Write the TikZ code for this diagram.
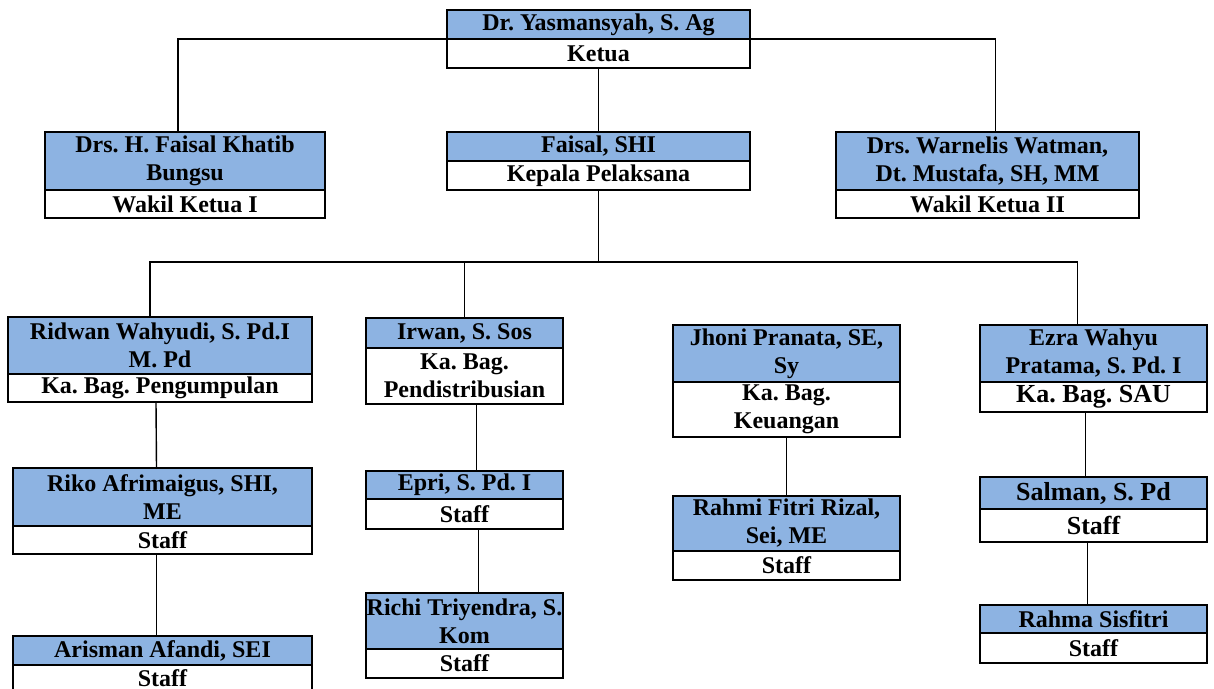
\documentclass[tikz,border=0pt]{standalone}
\usepackage{fontspec}
\setmainfont{Liberation Serif}
\frenchspacing
\usetikzlibrary{positioning,calc}
\definecolor{namefill}{HTML}{8DB3E2}

\begin{document}
\begin{tikzpicture}[x=0.5pt,y=-0.5pt,
	every node/.style={font=\bfseries\fontsize{12}{14}\selectfont,align=center,inner sep=0pt,outer sep=0pt,line width=1pt},
	namebox/.style={draw,fill=namefill,anchor=north west},
	rolebox/.style={draw,fill=white,below=0pt of #1},
	bigtext/.style={font=\bfseries\fontsize{13}{15}\selectfont},
	link/.style={line width=0.7pt}]
	\useasboundingbox (0,0) rectangle (1214,689);
	\clip (0,0) rectangle (1214,689);

	%top row
	\node[namebox,minimum width=151.5pt,minimum height=14.5pt] (ketua) at (447,10) {Dr. Yasmansyah, S. Ag};
	\node[rolebox=ketua,minimum width=151.5pt,minimum height=14.5pt] (ketuaR) {Ketua};
	%
	\node[namebox,minimum width=140pt,minimum height=29pt] (wakilsatu) at (45,132) {Drs. H. Faisal Khatib\\Bungsu};
	\node[rolebox=wakilsatu,minimum width=140pt,minimum height=14pt] (wakilsatuR) {Wakil Ketua I};
	\node[namebox,minimum width=151.5pt,minimum height=14.5pt] (faisal) at (447,132) {Faisal, SHI};
	\node[rolebox=faisal,minimum width=151.5pt,minimum height=14.5pt] (faisalR) {Kepala Pelaksana};
	\node[namebox,minimum width=151.5pt,minimum height=29pt] (wakildua) at (836,132) {Drs. Warnelis Watman,\\Dt. Mustafa, SH, MM};
	\node[rolebox=wakildua,minimum width=151.5pt,minimum height=14pt] (wakilduaR) {Wakil Ketua II};

	%bagian
	\node[namebox,minimum width=152pt,minimum height=28.5pt] (ridwan) at (8,317) {Ridwan Wahyudi, S. Pd.I\\M. Pd};
	\node[rolebox=ridwan,minimum width=152pt,minimum height=14pt] (ridwanR) {Ka. Bag. Pengumpulan};
	\node[namebox,minimum width=98.5pt,minimum height=15pt] (irwan) at (366,318) {Irwan, S. Sos};
	\node[rolebox=irwan,minimum width=98.5pt,minimum height=28pt] (irwanR) {Ka. Bag.\\Pendistribusian};
	\node[namebox,minimum width=113.5pt,minimum height=28.5pt] (jhoni) at (673,325) {Jhoni Pranata, SE,\\Sy};
	\node[rolebox=jhoni,minimum width=113.5pt,minimum height=27.5pt] (jhoniR) {Ka. Bag.\\Keuangan};
	\node[namebox,minimum width=113.5pt,minimum height=28.5pt] (ezra) at (980,325) {Ezra Wahyu\\Pratama, S. Pd. I};
	\node[rolebox=ezra,bigtext,minimum width=113.5pt,minimum height=15pt] (ezraR) {Ka. Bag. SAU};

	%staff
	\node[namebox,minimum width=149.5pt,minimum height=29pt] (riko) at (13,468) {Riko Afrimaigus, SHI,\\ME};
	\node[rolebox=riko,minimum width=149.5pt,minimum height=14pt] (rikoR) {Staff};
	\node[namebox,minimum width=149.5pt,minimum height=14.5pt] (arisman) at (13,636) {Arisman Afandi, SEI};
	\node[rolebox=arisman,minimum width=149.5pt,minimum height=13.5pt] (arismanR) {Staff};
	%
	\node[namebox,minimum width=98.5pt,minimum height=14pt] (epri) at (366,471) {Epri, S. Pd. I};
	\node[rolebox=epri,minimum width=98.5pt,minimum height=15pt] (epriR) {Staff};
	\node[namebox,minimum width=98.5pt,minimum height=28pt] (richi) at (366,593) {Richi Triyendra, S.\\Kom};
	\node[rolebox=richi,minimum width=98.5pt,minimum height=14.5pt] (richiR) {Staff};
	%
	\node[namebox,minimum width=113.5pt,minimum height=27.5pt] (rahmi) at (673,496) {Rahmi Fitri Rizal,\\Sei, ME};
	\node[rolebox=rahmi,minimum width=113.5pt,minimum height=14.5pt] (rahmiR) {Staff};
	%
	\node[namebox,bigtext,minimum width=113.5pt,minimum height=16pt] (salman) at (980,477) {Salman, S. Pd};
	\node[rolebox=salman,bigtext,minimum width=113.5pt,minimum height=16.5pt] (salmanR) {Staff};
	\node[namebox,minimum width=113.5pt,minimum height=14pt] (rahma) at (980,605) {Rahma Sisfitri};
	\node[rolebox=rahma,minimum width=113.5pt,minimum height=15pt] (rahmaR) {Staff};

	%lines
	\draw[link] (ketua.south west) -| ([xshift=-3.5pt]wakilsatu.north);
	\draw[link] (ketua.south east) -| ([xshift=4pt]wakildua.north);
	\draw[link] (ketuaR.south) -- (faisal.north);
	%
	\coordinate (bus) at ($(faisalR.south)+(0,72)$);
	\draw[link] (faisalR.south) -- (bus);
	\draw[link] ([xshift=-5pt]ridwan.north) |- (bus) -| ([xshift=-8pt]ezra.north);
	\draw[link] (irwan.north) -- (irwan.north |- bus);
	%
	\draw[link] ([xshift=-2pt]ridwanR.south) -- ([xshift=-3pt]riko.north);
	\draw[link] ([xshift=-3pt]rikoR.south) -- ([xshift=-3pt]arisman.north);
	\draw[link] ([xshift=6pt]irwanR.south) -- ([xshift=6pt]epri.north);
	\draw[link] ([xshift=7pt]epriR.south) -- ([xshift=7pt]richi.north);
	\draw[link] (jhoniR.south) -- (rahmi.north);
	\draw[link] ([xshift=-4pt]ezraR.south) -- ([xshift=-4pt]salman.north);
	\draw[link] ([xshift=-3pt]salmanR.south) -- ([xshift=-3pt]rahma.north);

\end{tikzpicture}
\end{document}
